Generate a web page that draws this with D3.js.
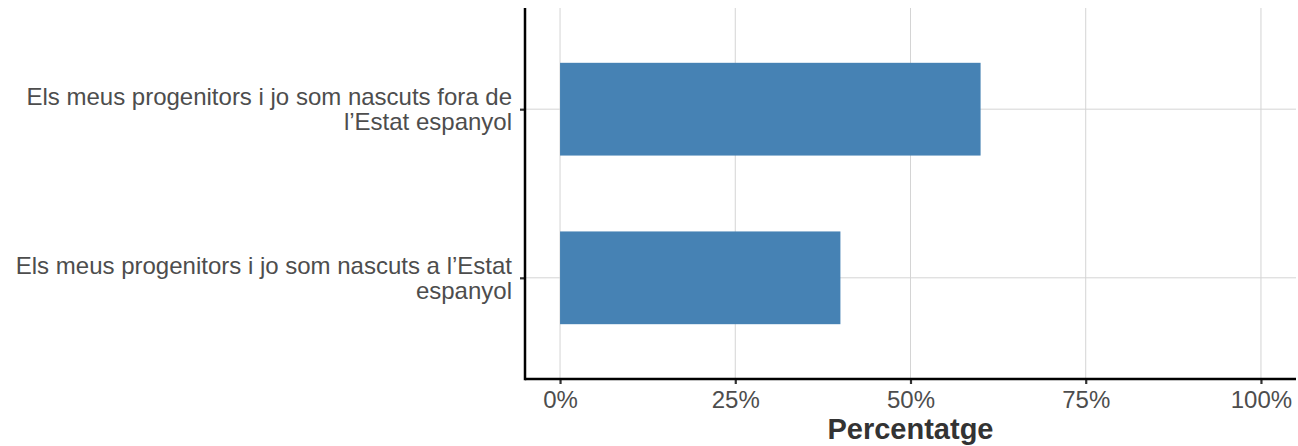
<!DOCTYPE html>
<html>
<head>
<meta charset="utf-8">
<script src="https://cdn.jsdelivr.net/npm/d3@7"></script>
<style>
  body { margin: 0; background: #fff; }
  svg text { font-family: "Liberation Sans", Arial, sans-serif; }
</style>
</head>
<body>
<svg id="chart" width="1298" height="446"></svg>
<script>
const categories = [
  "Els meus progenitors i jo som nascuts a l’Estat espanyol",
  "Els meus progenitors i jo som nascuts fora de l’Estat espanyol"
];
const categoryLines = [
  ["Els meus progenitors i jo som nascuts a l’Estat", "espanyol"],
  ["Els meus progenitors i jo som nascuts fora de", "l’Estat espanyol"]
];
const values = [40, 60];
const tickValues = [0, 25, 50, 75, 100];
const tickLabels = ["0%", "25%", "50%", "75%", "100%"];
const axisTitle = "Percentatge";

const svg = d3.select("#chart");
const pLeft = 525, pRight = 1296, pTop = 8, pBottom = 379;

const x = d3.scaleLinear().domain([-5, 105]).range([pLeft, pRight]);
const y = d3.scaleLinear().domain([0.4, 2.6]).range([pBottom, pTop]);
const barHalf = 0.275;

// gridlines
svg.append("g").selectAll("line").data(tickValues).join("line")
  .attr("x1", d => x(d)).attr("x2", d => x(d))
  .attr("y1", pTop).attr("y2", pBottom)
  .attr("stroke", "#d4d4d4").attr("stroke-width", 1);
svg.append("g").selectAll("line").data(categories).join("line")
  .attr("x1", pLeft).attr("x2", pRight)
  .attr("y1", (d, i) => y(i + 1)).attr("y2", (d, i) => y(i + 1))
  .attr("stroke", "#d4d4d4").attr("stroke-width", 1);

// bars
svg.append("g").selectAll("rect").data(values).join("rect")
  .attr("x", x(0))
  .attr("width", d => x(d) - x(0))
  .attr("y", (d, i) => y(i + 1 + barHalf))
  .attr("height", y(1 - barHalf) - y(1 + barHalf))
  .attr("fill", "#4682b4");

// x axis
const xAxis = d3.axisBottom(x).tickValues(tickValues)
  .tickFormat((d, i) => tickLabels[i]).tickSize(5).tickSizeOuter(0).tickPadding(7);
const gx = svg.append("g").attr("transform", `translate(0,${pBottom})`).call(xAxis);
gx.select(".domain").remove();
gx.selectAll(".tick line").attr("stroke", "#333").attr("stroke-width", 2.2);
gx.selectAll(".tick text").attr("font-size", 24).attr("fill", "#4d4d4d")
  .attr("font-family", "Liberation Sans, Arial, sans-serif");

// y axis
const yAxis = d3.axisLeft(y).tickValues([1, 2]).tickFormat("").tickSize(5).tickSizeOuter(0);
const gy = svg.append("g").attr("transform", `translate(${pLeft},0)`).call(yAxis);
gy.select(".domain").remove();
gy.selectAll(".tick line").attr("stroke", "#333").attr("stroke-width", 2.2);

// axis lines
svg.append("line").attr("x1", pLeft).attr("x2", pRight).attr("y1", pBottom).attr("y2", pBottom)
  .attr("stroke", "#000").attr("stroke-width", 2.5);
svg.append("line").attr("x1", pLeft).attr("x2", pLeft).attr("y1", pTop).attr("y2", pBottom + 1.2)
  .attr("stroke", "#000").attr("stroke-width", 2.5);

// category labels
const lab = svg.append("g").selectAll("text").data(categoryLines).join("text")
  .attr("text-anchor", "end")
  .attr("font-size", 24)
  .attr("fill", "#4d4d4d")
  .attr("x", 512)
  .attr("y", (d, i) => y(i + 1) - 4);
lab.selectAll("tspan").data(d => d).join("tspan")
  .attr("x", 512)
  .attr("dy", (d, j) => j === 0 ? 0 : 25)
  .text(d => d);

// axis title
svg.append("text")
  .attr("x", (x(0) + x(100)) / 2)
  .attr("y", 439)
  .attr("text-anchor", "middle")
  .attr("font-size", 29)
  .attr("font-weight", "bold")
  .attr("fill", "#333")
  .text(axisTitle);
</script>
</body>
</html>
